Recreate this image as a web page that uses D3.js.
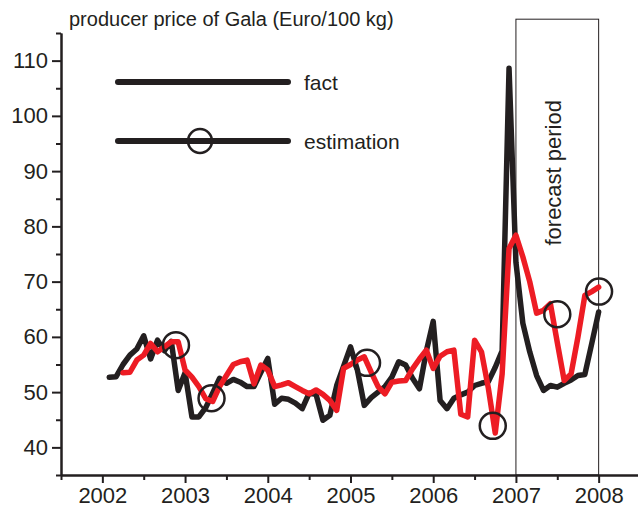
<!DOCTYPE html>
<html>
<head>
<meta charset="utf-8">
<script src="https://cdn.jsdelivr.net/npm/d3@7"></script>
<style>
  html, body { margin: 0; padding: 0; background: #ffffff; }
  svg { display: block; }
  text { font-family: "Liberation Sans", Arial, Helvetica, sans-serif; fill: #231f20; }
</style>
</head>
<body>
<div id="chart"></div>
<script>
// ---------------- data ----------------
const yearTicks = [2002, 2003, 2004, 2005, 2006, 2007, 2008];
const priceTicks = [40, 50, 60, 70, 80, 90, 100, 110];
const title = "producer price of Gala (Euro/100 kg)";
const seriesNames = ["fact", "estimation"];
const forecastLabel = "forecast period";
const forecastPeriod = [2007, 2008];

// monthly series; first value month given as [year, month]
const factStart = [2002, 2];
const factValues = [
  52.7, 52.8, 55.0, 56.7, 57.8, 60.2, 56.0, 59.4, 57.5, 59.2, 50.3,
  53.5, 45.5, 45.5, 47.2, 49.8, 52.5, 51.6, 52.3, 51.8, 51.0, 51.0, 53.6,
  56.1, 47.8, 48.9, 48.7, 48.0, 47.0, 49.8, 49.6, 44.9, 45.8, 51.2, 54.7,
  58.2, 54.0, 47.6, 49.0, 50.0, 51.0, 52.7, 55.5, 54.9, 52.5, 50.6, 57.4,
  62.8, 48.5, 47.0, 48.9, 49.5, 50.0, 51.2, 51.6, 51.9, 54.5, 57.5, 108.6,
  73.5, 62.5, 57.3, 53.0, 50.3, 51.2, 50.9, 51.6, 52.2, 53.0, 53.2, 58.8,
  64.5
];
const estimationStart = [2002, 4];
const estimationValues = [
  53.5, 53.6, 55.8, 56.7, 58.8, 57.3, 58.2, 59.1, 59.1,
  54.0, 52.7, 51.0, 48.8, 48.3, 51.0, 53.0, 55.0, 55.5, 55.8, 51.5, 54.9,
  54.0, 51.0, 51.3, 51.7, 51.0, 50.3, 49.7, 50.4, 49.6, 48.5, 46.7, 54.3,
  55.0, 55.8, 56.4, 53.6, 51.0, 49.7, 51.8, 52.0, 52.1, 54.2, 56.0, 57.6,
  54.3, 56.5, 57.3, 57.6, 46.0, 45.5, 59.4, 57.3, 50.7, 42.6, 53.3, 76.0,
  78.4, 74.5, 70.0, 64.3, 64.8, 66.0, 59.0, 52.1, 53.3, 60.0, 67.5, 68.2,
  69.0
];
// highlighted points (circles)
const markTimes = [2002.89, 2003.32, 2005.20, 2006.72, 2007.50, 2008.005];
const markValues = [58.5, 48.9, 55.3, 43.9, 64.1, 68.2];

// ---------------- drawing ----------------
const W = 638, H = 507;
const ink = "#231f20", red = "#ed1c24";
const svg = d3.select("#chart").append("svg").attr("width", W).attr("height", H);

const x = d3.scaleLinear().domain([2001.5, 2008.5]).range([61, 640]);
const y = d3.scaleLinear().domain([35, 115]).range([475, 33]);

const toSeries = (start, vals) => vals.map((v, k) => ({
  t: start[0] + (start[1] - 1 + k) / 12, v
}));
const fact = toSeries(factStart, factValues);
const est = toSeries(estimationStart, estimationValues);

// forecast box
svg.append("rect")
  .attr("x", x(forecastPeriod[0]))
  .attr("y", y(117.5))
  .attr("width", x(forecastPeriod[1]) - x(forecastPeriod[0]))
  .attr("height", y(35) - y(117.5))
  .attr("fill", "none").attr("stroke", ink).attr("stroke-width", 1);

svg.append("text")
  .attr("transform", `translate(${x(2007.45)},${y(89.7)}) rotate(-90)`)
  .attr("text-anchor", "middle").attr("dominant-baseline", "central")
  .style("font-size", "22px")
  .text(forecastLabel);

// axes
const yAxis = svg.append("g").attr("transform", `translate(${x(2001.5)},0)`)
  .call(d3.axisLeft(y).tickValues(priceTicks).tickSize(9).tickSizeOuter(0).tickPadding(4));
const yMinor = svg.append("g").attr("transform", `translate(${x(2001.5)},0)`)
  .call(d3.axisLeft(y).tickValues(d3.range(35, 116, 10)).tickSize(5).tickSizeOuter(0).tickFormat(""));
const xAxis = svg.append("g").attr("transform", `translate(0,${y(35)})`)
  .call(d3.axisBottom(x).tickValues(yearTicks).tickFormat(d3.format("d")).tickSize(8).tickSizeOuter(0).tickPadding(4));
const xMinor = svg.append("g").attr("transform", `translate(0,${y(35)})`)
  .call(d3.axisBottom(x).tickValues(d3.range(2001.5, 2008.6, 1)).tickSize(5).tickSizeOuter(0).tickFormat(""));

[yAxis, yMinor, xAxis, xMinor].forEach(g => {
  g.selectAll("path.domain").attr("stroke", ink).attr("stroke-width", 2);
  g.selectAll(".tick line").attr("stroke", ink).attr("stroke-width", 2);
  g.selectAll(".tick text").attr("fill", ink)
    .style("font-family", '"Liberation Sans", Arial, sans-serif').style("font-size", "22px");
});

// title
svg.append("text").attr("x", 69).attr("y", 26).style("font-size", "20px").text(title);

// lines
const line = d3.line().x(d => x(d.t)).y(d => y(d.v));
svg.append("path").datum(fact).attr("d", line)
  .attr("fill", "none").attr("stroke", ink).attr("stroke-width", 5.5)
  .attr("stroke-linejoin", "round").attr("stroke-linecap", "round");
svg.append("path").datum(est).attr("d", line)
  .attr("fill", "none").attr("stroke", red).attr("stroke-width", 5.5)
  .attr("stroke-linejoin", "round").attr("stroke-linecap", "round");

// circles
svg.selectAll("circle.mark").data(markTimes).enter().append("circle")
  .attr("class", "mark")
  .attr("cx", d => x(d)).attr("cy", (d, i) => y(markValues[i]))
  .attr("r", 13).attr("fill", "none").attr("stroke", ink).attr("stroke-width", 2.5);

// legend
const legendRows = [{ name: seriesNames[0], cy: 82, mark: false }, { name: seriesNames[1], cy: 141, mark: true }];
legendRows.forEach(r => {
  svg.append("line").attr("x1", 118).attr("x2", 288).attr("y1", r.cy).attr("y2", r.cy)
    .attr("stroke", ink).attr("stroke-width", 6).attr("stroke-linecap", "round");
  if (r.mark) {
    svg.append("circle").attr("cx", 200).attr("cy", r.cy).attr("r", 12)
      .attr("fill", "none").attr("stroke", ink).attr("stroke-width", 2.5);
  }
  svg.append("text").attr("x", 304).attr("y", r.cy).attr("dominant-baseline", "central")
    .style("font-size", "21px").text(r.name);
});
</script>
</body>
</html>
